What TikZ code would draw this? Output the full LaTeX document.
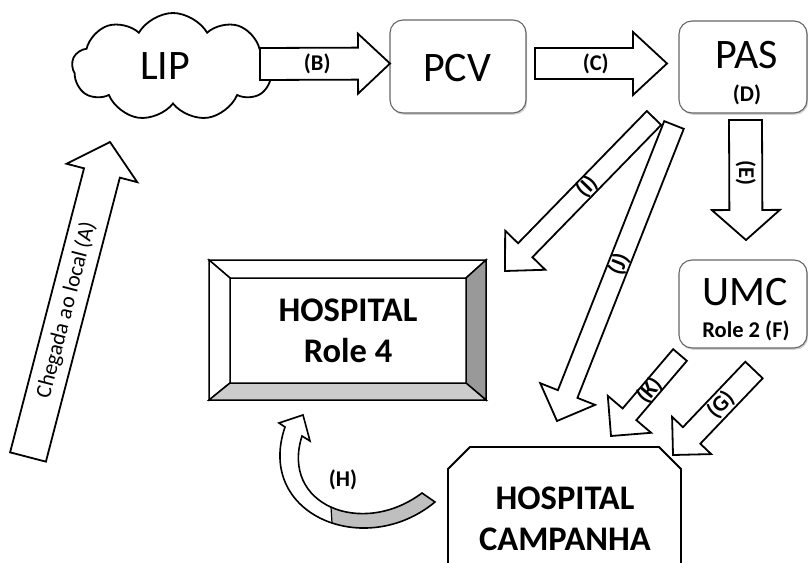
\documentclass[tikz,border=0pt]{standalone}
\usepackage{fontspec}
\setmainfont{Carlito}
\usetikzlibrary{calc,shapes.symbols,shadows}
\tikzset{
  barrow/.style={draw=black, line width=1.8pt, fill=white, line join=miter},
  lbl/.style={font=\bfseries\fontsize{22.5}{26}\selectfont, inner sep=0pt},
  albl/.style={font=\fontsize{22}{24}\selectfont, inner sep=0pt},
  big/.style={font=\fontsize{42}{45}\selectfont, inner sep=0pt},
  hosp/.style={font=\bfseries\fontsize{34.5}{41.5}\selectfont, inner sep=0pt, align=center},
  rbox/.style={draw=black!60, line width=1.1pt, fill=white, rounded corners=13pt,
    drop shadow={shadow xshift=1.2pt, shadow yshift=-1.8pt, opacity=0.35}},
  face/.style={draw=black, line width=1.5pt, line join=miter},
}
% #1 tail, #2 tip, #3 half shaft width, #4 half head width, #5 head length
\newcommand\blockarrow[5]{%
  \coordinate (ba-b) at ($(#2)!#5!(#1)$);
  \draw[barrow] ($(#1)!#3!90:(#2)$) -- ($(ba-b)!#3!90:(#2)$) -- ($(ba-b)!#4!90:(#2)$)
    -- (#2) -- ($(ba-b)!#4!-90:(#2)$) -- ($(ba-b)!#3!-90:(#2)$) -- ($(#1)!#3!-90:(#2)$) -- cycle;}
\begin{document}
\begin{tikzpicture}[x=1pt,y=-1pt]
\useasboundingbox (0,0) rectangle (808,562);

% rounded boxes
\node[rbox, minimum width=136pt, minimum height=93pt] (pcv) at (458,66.5) {};
\node[big] (pcvT) at (457,68) {PCV};
\node[rbox, minimum width=128pt, minimum height=92pt] (pas) at (743,67) {};
\node[big] (pasT) at (747,55) {PAS};
\node[lbl] (pasD) at (747,95) {(D)};
\node[rbox, minimum width=128pt, minimum height=88pt] (umc) at (743,304) {};
\node[big] (umcT) at (745,292) {UMC};
\node[lbl] (umcR) at (746,331) {Role 2 (F)};

% cloud
\node[cloud, draw, line width=1.8pt, fill=white, cloud puffs=9, cloud puff arc=120,
  aspect=1.9, minimum width=202pt, minimum height=108pt, inner sep=0pt] (lip) at (173,67) {};
\node[big] (lipT) at (165,66) {LIP};

% hospital role 4 (bevel)
\fill[white] (209,260) rectangle (486,400);
\draw[face, fill=white] (209,260) -- (486,260) -- (466,278) -- (230,278) -- cycle;
\draw[face, fill=white] (209,260) -- (230,278) -- (230,383) -- (209,400) -- cycle;
\draw[face, fill=black!40] (486,260) -- (486,400) -- (466,383) -- (466,278) -- cycle;
\draw[face, fill=black!20] (209,400) -- (486,400) -- (466,383) -- (230,383) -- cycle;
\node[hosp] (h4T) at (348,331) {HOSPITAL\\Role 4};

% hospital campanha
\draw[line width=1.8pt, line join=miter] (448,570) -- (448,469) -- (470,447) -- (659,447) -- (681,469) -- (681,570);
\node[hosp] (hcT) at (565,519) {HOSPITAL\\CAMPANHA};

% block arrows
\coordinate (Atail) at (28,457);   \coordinate (Atip) at (110,142);
\coordinate (Btail) at (260,64);   \coordinate (Btip) at (390,63.5);
\coordinate (Ctail) at (535,63.5); \coordinate (Ctip) at (667,63.5);
\coordinate (Etail) at (745.5,120);\coordinate (Etip) at (746,240);
\coordinate (Itail) at (654,118);  \coordinate (Itip) at (505,271);
\coordinate (Jtail) at (674,125);  \coordinate (Jtip) at (557,421);
\coordinate (Ktail) at (680,355);  \coordinate (Ktip) at (611,436);
\coordinate (Gtail) at (754,370);  \coordinate (Gtip) at (673,455);

\blockarrow{Atail}{Atip}{18.5pt}{36.5pt}{32pt}
\blockarrow{Btail}{Btip}{16pt}{30pt}{32pt}
\blockarrow{Ctail}{Ctip}{15.5pt}{31.5pt}{34pt}
\blockarrow{Etail}{Etip}{16.5pt}{34pt}{30pt}
\blockarrow{Itail}{Itip}{10pt}{28pt}{29pt}
\blockarrow{Jtail}{Jtip}{10.5pt}{29.5pt}{29pt}
\blockarrow{Ktail}{Ktip}{9pt}{28.5pt}{28.5pt}
\blockarrow{Gtail}{Gtip}{12pt}{27pt}{27pt}

\node[albl, rotate=75.41] (lblA) at ($(Atail)!0.467!(Atip)$) {Chegada ao local (A)};
\node[lbl] (lblB) at ($(Btail)!0.44!(Btip)$) {(B)};
\node[lbl] (lblC) at ($(Ctail)!0.46!(Ctip)$) {(C)};
\node[lbl, rotate=-90] (lblE) at ($(Etail)!0.44!(Etip)$) {(E)};
\node[lbl, rotate=45.76] (lblI) at ($(Itail)!0.45!(Itip)$) {(I)};
\node[lbl, rotate=68.43] (lblJ) at ($(Jtail)!0.47!(Jtip)$) {(J)};
\node[lbl, rotate=49.57] (lblK) at ($(Ktail)!0.44!(Ktip)$) {(K)};
\node[lbl, rotate=46.38] (lblG) at ($(Gtail)!0.41!(Gtip)$) {(G)};

% curved arrow H
\def\Hpath{(435,502) .. controls (365,560) and (255,515) .. (285,427) -- (279,423) -- (303,415)
  -- (310,441) -- (302,436) .. controls (280,505) and (362,538) .. (422,493) -- cycle}
\fill[white] \Hpath;
\begin{scope}
  \clip (332,470) rectangle (470,545);
  \fill[black!25] \Hpath;
\end{scope}
\draw[line width=1.6pt, line join=miter] \Hpath;
\draw[line width=1.2pt] (331,507) -- (332,523);
\node[lbl] (lblH) at (343,480) {(H)};
\end{tikzpicture}
\end{document}
